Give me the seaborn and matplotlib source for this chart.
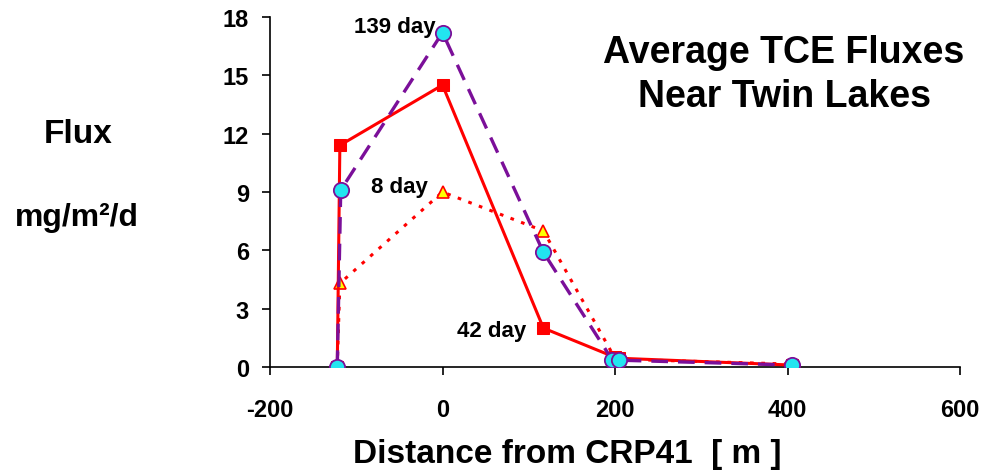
import matplotlib
matplotlib.use("Agg")
import matplotlib.pyplot as plt
import seaborn as sns
import pandas as pd

# 42 day (red squares, solid)
x_42 = [-122, -119, 0, 117, 200, 205, 405]
y_42 = [0.0, 11.4, 14.5, 2.0, 0.5, 0.45, 0.1]

# 139 day (cyan circles, purple dashed)
x_139 = [-122, -118, 0, 117, 197, 205, 405]
y_139 = [0.0, 9.1, 17.2, 5.9, 0.35, 0.35, 0.1]

# 8 day (yellow triangles, red dotted)
x_8 = [-122, -119, 0, 117, 200, 205, 405]
y_8 = [0.0, 4.3, 9.0, 7.0, 0.45, 0.4, 0.15]

x_ticks = [-200, 0, 200, 400, 600]
y_ticks = [0, 3, 6, 9, 12, 15, 18]

sns.set_style("white")
plt.rcParams["font.family"] = ["Liberation Sans", "DejaVu Sans"]
plt.rcParams["font.weight"] = "bold"
plt.rcParams["axes.unicode_minus"] = False
plt.rcParams["text.color"] = "black"
plt.rcParams["axes.labelcolor"] = "black"

fig = plt.figure(figsize=(9.84, 4.77), dpi=100)
ax = fig.add_axes([270 / 984, 1 - 368 / 477, 690 / 984, 350 / 477])

df_42 = pd.DataFrame({"x": x_42, "y": y_42})
df_139 = pd.DataFrame({"x": x_139, "y": y_139})
df_8 = pd.DataFrame({"x": x_8, "y": y_8})

sns.lineplot(data=df_8, x="x", y="y", ax=ax, sort=False, color="red",
             linestyle=(0, (1.2, 2.5)), linewidth=2.2, marker="^",
             markersize=9, markerfacecolor="yellow", markeredgecolor="red",
             markeredgewidth=1.2, zorder=3)
sns.lineplot(data=df_42, x="x", y="y", ax=ax, sort=False, color="red",
             linewidth=2.2, marker="s", markersize=8,
             markerfacecolor="red", markeredgecolor="red", zorder=4)
sns.lineplot(data=df_139, x="x", y="y", ax=ax, sort=False, color="#7B0F99",
             linestyle=(0, (5, 3)), linewidth=2.4, marker="o",
             markersize=11, markerfacecolor="#22E5F0",
             markeredgecolor="#7B0F99", markeredgewidth=1.3, zorder=5)

ax.set_xlim(-200, 600)
ax.set_ylim(0, 18)
ax.set_xticks(x_ticks)
ax.set_yticks(y_ticks)
ax.tick_params(axis="both", labelsize=17, direction="out", length=6,
               width=1.2, colors="black", bottom=True, left=True)
ax.tick_params(axis="x", pad=16)
ax.tick_params(axis="y", pad=9)
for lab in ax.get_xticklabels() + ax.get_yticklabels():
    lab.set_fontweight("bold")

sns.despine(ax=ax)
ax.spines["left"].set_color("black")
ax.spines["bottom"].set_color("black")
ax.spines["left"].set_linewidth(1.2)
ax.spines["bottom"].set_linewidth(1.2)

ax.set_xlabel("")
ax.set_ylabel("")
fig.text(567 / 984, 1 - 455 / 477, "Distance from CRP41  [ m ]",
         fontsize=24, fontweight="bold", ha="center", va="center")

fig.text(78 / 984, 1 - 135 / 477, "Flux", fontsize=24,
         fontweight="bold", ha="center", va="center")
fig.text(77 / 984, 1 - 218 / 477, "mg/m²/d", fontsize=23,
         fontweight="bold", ha="center", va="center")

fig.text(784 / 984, 1 - 75 / 477, "Average TCE Fluxes\nNear Twin Lakes",
         fontsize=27, fontweight="bold", ha="center", va="center",
         linespacing=1.3)

ax.text(-8, 17.5, "139 day", fontsize=16, fontweight="bold",
        ha="right", va="center")
ax.text(-17, 9.3, "8 day", fontsize=16, fontweight="bold",
        ha="right", va="center")
ax.text(57, 1.9, "42 day", fontsize=16, fontweight="bold",
        ha="center", va="center")

fig.savefig("out.png", dpi=100)
plt.close(fig)
